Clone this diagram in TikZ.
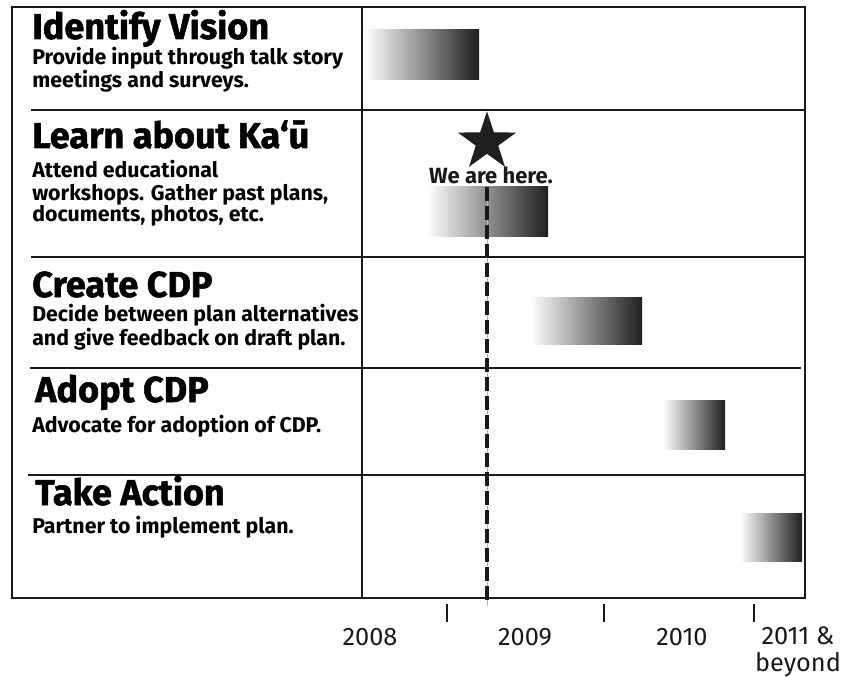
\documentclass[tikz,border=0pt]{standalone}
\usepackage{fontspec}
\setmainfont{Fira Sans}
\newfontfamily\headfont{Fira Sans}[BoldFeatures={FakeBold=1.5}]
\usetikzlibrary{shapes.geometric}
\tikzset{
	title/.style={anchor=base west,inner sep=0pt,font=\headfont\bfseries\fontsize{27}{27}\selectfont},
	info/.style={anchor=base west,inner sep=0pt,align=left,font=\bfseries\fontsize{16}{16.5}\selectfont},
	rule/.style={line width=1.6pt,black!90},
	bar/.style={left color=white,right color=black!88},
	year/.style={anchor=base,inner sep=0pt,align=center,font=\fontsize{19}{20}\selectfont,black!90}
}
\begin{document}
\begin{tikzpicture}[x=0.75pt,y=-0.75pt]
	\useasboundingbox (0,0) rectangle (852,677);
	\draw[rule,line width=2pt] (12,7) rectangle (805,598);
	\draw[rule] (362,7) -- (362,598);
	\draw[rule] (31,110) -- (805,110);
	\draw[rule] (31,257) -- (805,257);
	\draw[rule] (30,368) -- (801,368);
	\draw[rule] (28,475) -- (806,475);

	\node[title] (vision) at (32,39) {Identify Vision};
	\node[info] (visiontxt) at (32,88) {Provide input through talk story\\meetings and surveys.};
	\node[title] (learn) at (32,148) {Learn about Ka‘ū};
	\node[info] (learntxt) at (32,222) {Attend educational\\workshops. Gather past plans,\\documents, photos, etc.};
	\node[title] (create) at (32,297) {Create CDP};
	\node[info] (createtxt) at (32,345) {Decide between plan alternatives\\and give feedback on draft plan.};
	\node[title] (adopt) at (35,402) {Adopt CDP};
	\node[info] (adopttxt) at (32,432) {Advocate for adoption of CDP.};
	\node[title] (action) at (35,505) {Take Action};
	\node[info] (actiontxt) at (32,533) {Partner to implement plan.};

	\shade[bar] (365,30) rectangle (479,80);
	\shade[bar] (427,187) rectangle (548,236);
	\shade[bar] (530,297) rectangle (642,344);
	\shade[bar] (663,400) rectangle (725,449);
	\shade[bar] (740,513) rectangle (802,561);

	\node[star,star points=5,star point ratio=2.6,fill=black!88,inner sep=0pt,minimum size=46pt] (star) at (487,142) {};
	\node[anchor=base,inner sep=0pt,font=\bfseries\fontsize{16.5}{16.5}\selectfont,black!90] (here) at (491,184) {We are here.};
	\coordinate (now) at (487,187);
	\coordinate (nowend) at (487,606);
	\draw[gray!60,line width=0.6pt] (now) -- (nowend);
	\draw[black!90,line width=3pt,dash pattern=on 10.5pt off 3.75pt] (now) -- ([yshift=3pt]nowend);

	\foreach \tx in {447,604,754}
		\draw[black!90,line width=1.5pt] (\tx,604) -- (\tx,622);
	\node[year] (y8) at (370,645) {2008};
	\node[year] (y9) at (525,645) {2009};
	\node[year] (y10) at (682,645) {2010};
	\node[year] (y11) at (798,671) {2011 \&\\beyond};
\end{tikzpicture}
\end{document}
